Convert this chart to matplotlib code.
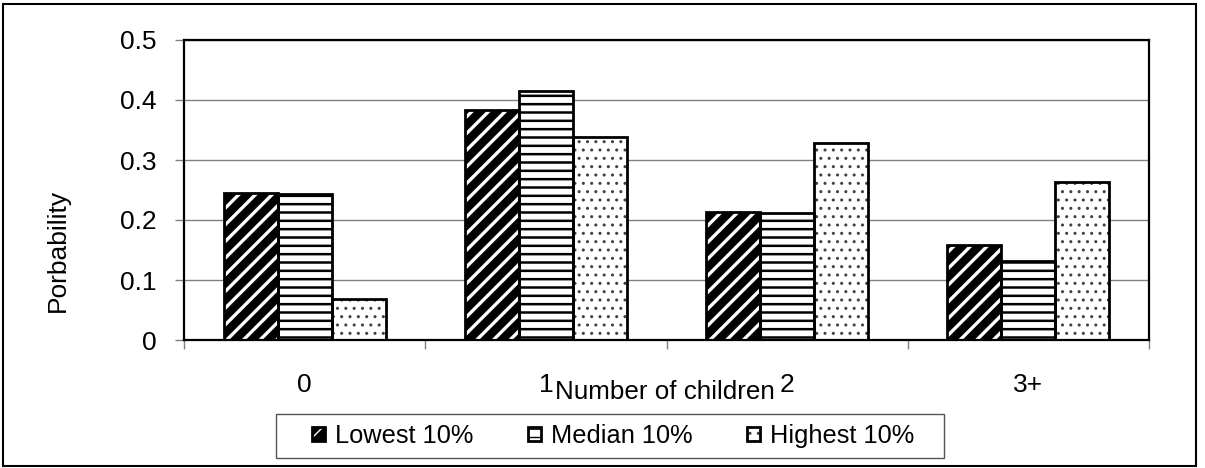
import matplotlib
matplotlib.use('Agg')
import matplotlib.pyplot as plt
import numpy as np
from matplotlib.patches import Rectangle
from matplotlib.legend_handler import HandlerTuple

categories = ['0', '1', '2', '3+']
series_names = ['Lowest 10%', 'Median 10%', 'Highest 10%']
lowest = [0.245, 0.383, 0.213, 0.158]
median = [0.243, 0.415, 0.211, 0.131]
highest = [0.069, 0.338, 0.328, 0.264]
y_ticks = [0, 0.1, 0.2, 0.3, 0.4, 0.5]
y_tick_labels = ['0', '0.1', '0.2', '0.3', '0.4', '0.5']
x_label = 'Number of children'
y_label = 'Porbability'

plt.rcParams['font.family'] = ['Liberation Sans', 'DejaVu Sans']

W, H = 1205, 468
fig = plt.figure(figsize=(W / 100, H / 100), dpi=100)
ax = fig.add_axes([184 / W, 1 - 340 / H, 965 / W, 300 / H])

x = np.arange(len(categories))
w = 0.224
styles = [
    dict(facecolor='black', edgecolor='white', hatch='//', hlw=2.4),
    dict(facecolor='white', edgecolor='black', hatch='--', hlw=1.8),
    dict(facecolor='white', edgecolor='#404040', hatch='..', hlw=1.0),
]
handles = []
for i, (vals, st) in enumerate(zip([lowest, median, highest], styles)):
    pos = x + (i - 1) * w
    with plt.rc_context({'hatch.linewidth': st['hlw']}):
        fill = ax.bar(pos, vals, width=w, facecolor=st['facecolor'],
                      edgecolor=st['edgecolor'], hatch=st['hatch'],
                      linewidth=0, zorder=2)
    for p in fill:
        if hasattr(p, 'set_hatch_linewidth'):
            p.set_hatch_linewidth(st['hlw'])
    outline = ax.bar(pos, vals, width=w, fill=False, edgecolor='black',
                     linewidth=2.0, zorder=3)
    handles.append((fill[0], outline[0]))

ax.set_xlim(-0.5, 3.5)
ax.set_ylim(0, 0.5)
ax.set_xticks(x)
ax.set_xticklabels(categories)
ax.set_xticks(np.arange(-0.5, 4, 1), minor=True)
ax.tick_params(axis='x', which='major', length=0, pad=24, labelsize=19)
ax.tick_params(axis='x', which='minor', length=6.5, color='#808080', width=1)
ax.set_yticks(y_ticks, y_tick_labels)
ax.tick_params(axis='y', length=6.5, color='#808080', width=1, pad=13, labelsize=19)
ax.yaxis.grid(True, color='#808080', lw=1)
ax.set_axisbelow(True)
for s in ax.spines.values():
    s.set_linewidth(1.6)
    s.set_color('black')

ax.set_xlabel(x_label, fontsize=18.7)
ax.xaxis.set_label_coords(0.4984, -0.1333)
ax.set_ylabel(y_label, fontsize=19)
ax.yaxis.set_label_coords(-0.1181, 0.3)

# legend box
fig.patches.append(Rectangle((276 / W, 10 / H), 668 / W, 44 / H,
                             transform=fig.transFigure, fill=False,
                             ec='#555555', lw=1.0))
ax.legend(handles, series_names, handler_map={tuple: HandlerTuple(ndivide=1)},
          loc='center', bbox_to_anchor=(613.5 / W, 1 - 436 / H),
          bbox_transform=fig.transFigure, ncol=3, frameon=False,
          fontsize=18.3, handlelength=0.5, handleheight=0.5,
          handletextpad=0.4, columnspacing=2.15, borderpad=0)

# outer frame
fig.patches.append(Rectangle((3 / W, 2 / H), 1193 / W, 462 / H,
                             transform=fig.transFigure, fill=False,
                             ec='black', lw=1.5))

fig.savefig('out.png', dpi=100)
